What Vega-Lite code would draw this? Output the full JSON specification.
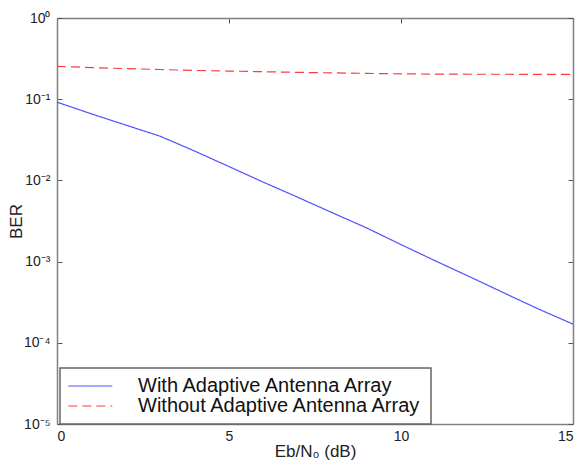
{
  "$schema": "https://vega.github.io/schema/vega-lite/v6.json",
  "width": 516,
  "height": 406,
  "autosize": "none",
  "padding": {"left": 57, "top": 18, "right": 8, "bottom": 43},
  "background": "white",
  "config": {
    "view": {"stroke": null},
    "font": "Liberation Sans",
    "axis": {
      "domainColor": "#808080",
      "domainWidth": 1.5,
      "tickColor": "#555555",
      "tickSize": -5,
      "grid": false,
      "labelFont": "Liberation Sans",
      "labelFontSize": 14,
      "labelColor": "#222222",
      "titleFont": "Liberation Sans",
      "titleFontSize": 17,
      "titleFontWeight": "normal",
      "titleColor": "#222222"
    },
    "legend": {
      "strokeColor": "#666666",
      "strokeWidth": 1.5,
      "fillColor": "white",
      "padding": 8,
      "rowPadding": -4,
      "labelFont": "Liberation Sans",
      "labelFontSize": 20,
      "labelColor": "#111111",
      "labelLimit": 400
    }
  },
  "data": {
    "values": [
      {"x": 0, "ber": 0.092, "series": "With Adaptive Antenna Array"},
      {"x": 1, "ber": 0.066, "series": "With Adaptive Antenna Array"},
      {"x": 2, "ber": 0.048, "series": "With Adaptive Antenna Array"},
      {"x": 3, "ber": 0.035, "series": "With Adaptive Antenna Array"},
      {"x": 4, "ber": 0.023, "series": "With Adaptive Antenna Array"},
      {"x": 5, "ber": 0.0148, "series": "With Adaptive Antenna Array"},
      {"x": 6, "ber": 0.0095, "series": "With Adaptive Antenna Array"},
      {"x": 7, "ber": 0.0062, "series": "With Adaptive Antenna Array"},
      {"x": 8, "ber": 0.0040, "series": "With Adaptive Antenna Array"},
      {"x": 9, "ber": 0.0026, "series": "With Adaptive Antenna Array"},
      {"x": 10, "ber": 0.00162, "series": "With Adaptive Antenna Array"},
      {"x": 11, "ber": 0.00102, "series": "With Adaptive Antenna Array"},
      {"x": 12, "ber": 0.00065, "series": "With Adaptive Antenna Array"},
      {"x": 13, "ber": 0.00041, "series": "With Adaptive Antenna Array"},
      {"x": 14, "ber": 0.00026, "series": "With Adaptive Antenna Array"},
      {"x": 15, "ber": 0.00017, "series": "With Adaptive Antenna Array"},
      {"x": 0, "ber": 0.253, "series": "Without Adaptive Antenna Array"},
      {"x": 1, "ber": 0.245, "series": "Without Adaptive Antenna Array"},
      {"x": 2, "ber": 0.238, "series": "Without Adaptive Antenna Array"},
      {"x": 3, "ber": 0.232, "series": "Without Adaptive Antenna Array"},
      {"x": 4, "ber": 0.226, "series": "Without Adaptive Antenna Array"},
      {"x": 5, "ber": 0.222, "series": "Without Adaptive Antenna Array"},
      {"x": 6, "ber": 0.218, "series": "Without Adaptive Antenna Array"},
      {"x": 7, "ber": 0.214, "series": "Without Adaptive Antenna Array"},
      {"x": 8, "ber": 0.211, "series": "Without Adaptive Antenna Array"},
      {"x": 9, "ber": 0.208, "series": "Without Adaptive Antenna Array"},
      {"x": 10, "ber": 0.205, "series": "Without Adaptive Antenna Array"},
      {"x": 11, "ber": 0.204, "series": "Without Adaptive Antenna Array"},
      {"x": 12, "ber": 0.203, "series": "Without Adaptive Antenna Array"},
      {"x": 13, "ber": 0.203, "series": "Without Adaptive Antenna Array"},
      {"x": 14, "ber": 0.202, "series": "Without Adaptive Antenna Array"},
      {"x": 15, "ber": 0.202, "series": "Without Adaptive Antenna Array"}
    ]
  },
  "resolve": {"axis": {"x": "independent", "y": "independent"}},
  "layer": [
    {
      "mark": {"type": "line", "strokeWidth": 1.2},
      "encoding": {
        "x": {
          "field": "x", "type": "quantitative",
          "scale": {"domain": [0, 15], "nice": false, "zero": false},
          "axis": {"values": [0, 5, 10, 15], "title": "Eb/N₀ (dB)", "labelPadding": 10, "titlePadding": 0}
        },
        "y": {
          "field": "ber", "type": "quantitative",
          "scale": {"type": "log", "domain": [0.00001, 1], "nice": false},
          "axis": {
            "values": [0.00001, 0.0001, 0.001, 0.01, 0.1, 1],
            "labelExpr": "datum.value >= 0.5 ? '10⁰' : datum.value >= 0.05 ? '10⁻¹' : datum.value >= 0.005 ? '10⁻²' : datum.value >= 0.0005 ? '10⁻³' : datum.value >= 0.00005 ? '10⁻⁴' : '10⁻⁵'",
            "title": "BER",
            "labelPadding": 12,
            "titlePadding": -2
          }
        },
        "color": {
          "field": "series", "type": "nominal",
          "scale": {"domain": ["With Adaptive Antenna Array", "Without Adaptive Antenna Array"], "range": ["#5050ff", "#ff3b3b"]},
          "legend": {
            "title": null,
            "orient": "none",
            "legendX": 3,
            "legendY": 350,
            "symbolType": "M-2.2,0H7.8",
            "symbolSize": 77.44,
            "symbolStrokeWidth": 1.2,
            "labelOffset": 50
          }
        },
        "strokeDash": {
          "field": "series", "type": "nominal",
          "scale": {"domain": ["With Adaptive Antenna Array", "Without Adaptive Antenna Array"], "range": [[1, 0], [9, 5]]},
          "legend": {
            "title": null,
            "orient": "none",
            "legendX": 3,
            "legendY": 350,
            "symbolType": "M-2.2,0H7.8",
            "symbolSize": 77.44,
            "symbolStrokeWidth": 1.2,
            "labelOffset": 50
          }
        }
      }
    },
    {
      "mark": {"type": "line", "opacity": 0},
      "encoding": {
        "x": {
          "field": "x", "type": "quantitative",
          "axis": {"orient": "top", "values": [0, 5, 10, 15], "labels": false, "title": null}
        },
        "y": {
          "field": "ber", "type": "quantitative",
          "axis": {"orient": "right", "values": [0.00001, 0.0001, 0.001, 0.01, 0.1, 1], "labels": false, "title": null}
        },
        "detail": {"field": "series", "type": "nominal"}
      }
    }
  ]
}
